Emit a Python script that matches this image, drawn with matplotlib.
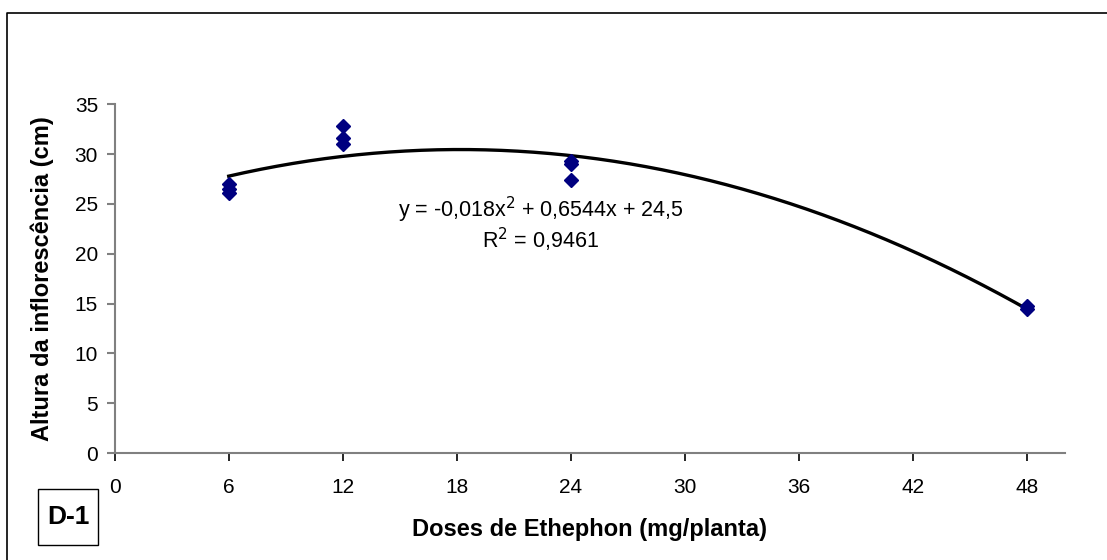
import numpy as np
import matplotlib.pyplot as plt
from matplotlib.patches import Rectangle
from matplotlib.lines import Line2D

plt.rcParams['font.family'] = ['Liberation Sans', 'DejaVu Sans']

# dados
doses = [6, 6, 6, 12, 12, 12, 24, 24, 24, 48, 48]
altura = [27.0, 26.5, 26.1, 32.8, 31.6, 31.0, 29.3, 29.0, 27.4, 14.8, 14.5]
coef = [-0.018, 0.6544, 24.5]  # linha de tendência polinomial
xticks = [0, 6, 12, 18, 24, 30, 36, 42, 48]
yticks = [0, 5, 10, 15, 20, 25, 30, 35]

fig = plt.figure(figsize=(11.07, 5.6), dpi=100)
ax = fig.add_axes([0.1036, 0.191, 0.8585, 0.623])

xs = np.linspace(6, 48, 200)
ax.plot(xs, np.polyval(coef, xs), color='black', lw=2.4)
ax.plot(doses, altura, 'D', color='#000080', ms=7, mec='#000080', zorder=3)

ax.set_xlim(0, 50)
ax.set_ylim(0, 35)
ax.set_xticks(xticks)
ax.set_yticks(yticks)
for s in ['top', 'right']:
    ax.spines[s].set_visible(False)
for s in ['left', 'bottom']:
    ax.spines[s].set_color('#808080')
    ax.spines[s].set_linewidth(1.5)
ax.tick_params(axis='y', colors='#808080', labelcolor='black', length=6, width=1.5, labelsize=15, pad=6)
ax.tick_params(axis='x', colors='black', length=6, width=1.2, labelsize=15, pad=12)

ax.set_xlabel('Doses de Ethephon (mg/planta)', fontsize=17, fontweight='bold', labelpad=15)
ax.set_ylabel('Altura da inflorescência (cm)', fontsize=17, fontweight='bold', labelpad=15)

ax.text(22.4, 24.4, 'y = -0,018x$^2$ + 0,6544x + 24,5', fontsize=15.5, ha='center', va='center')
ax.text(22.4, 21.4, 'R$^2$ = 0,9461', fontsize=15.5, ha='center', va='center')

# moldura externa (só esquerda e topo visíveis) e caixa D-1
fig.lines.append(Line2D([7 / 1107, 7 / 1107, 1], [0, 1 - 13 / 560, 1 - 13 / 560],
                        transform=fig.transFigure, color='black', lw=1.2))
fig.patches.append(Rectangle((38 / 1107, 15 / 560), 60 / 1107, 56 / 560,
                             transform=fig.transFigure, fill=False, ec='black', lw=1))
fig.text(68 / 1107, 43 / 560, 'D-1', fontsize=19, fontweight='bold', ha='center', va='center')

fig.savefig('out.png', dpi=100)
